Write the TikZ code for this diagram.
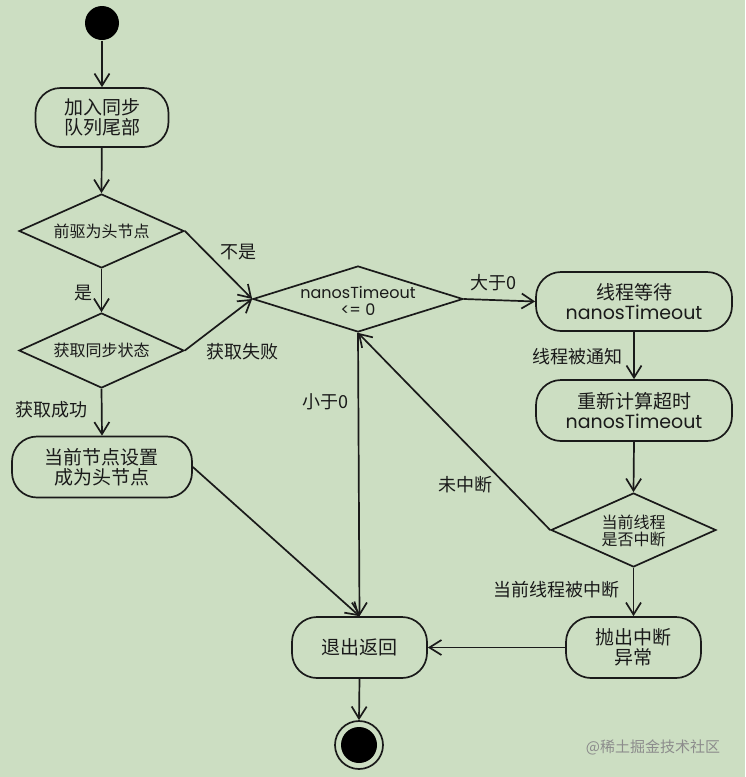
\documentclass[tikz,border=0pt]{standalone}
\usepackage{fontspec}
\setmainfont{Noto Sans CJK SC}
\newfontfamily\lat{Poppins}
\usetikzlibrary{shapes.geometric,arrows.meta}
\definecolor{bg}{HTML}{CCDEC2}
\definecolor{ink}{HTML}{1A1A1A}
\begin{document}
\begin{tikzpicture}[x=1pt,y=-1pt,
  every path/.style={line width=1.7pt},
  box/.style={draw=ink, rectangle, rounded corners=25pt, align=center, inner sep=0pt,
     font=\fontsize{19}{20}\selectfont, text=ink},
  dia/.style={draw=ink, diamond, inner sep=0pt},
  dtext/.style={align=center, font=\fontsize{16}{17}\selectfont, text=ink},
  lbl/.style={font=\fontsize{18}{19}\selectfont, text=ink},
  arr/.style={draw=ink, -{Straight Barb[length=12pt,width=15pt,line width=1.7pt]}},
  con/.style={draw=ink}]
\useasboundingbox (0,0) rectangle (745,777);
\fill[bg] (0,0) rectangle (745,777);

% initial and final states
\node[circle, fill=black, minimum size=34pt, inner sep=0pt] (start) at (102,23) {};
\node[circle, draw=ink, minimum size=48pt, inner sep=0pt] (end) at (359,745) {};
\fill[black] (end.center) circle (18);

% activities
\node[box, minimum width=133pt, minimum height=59pt] (b1) at (102,117.5) {加入同步\\队列尾部};
\node[box, minimum width=180pt, minimum height=61pt] (b2) at (102,467) {当前节点设置\\成为头节点};
\node[box, minimum width=196pt, minimum height=59pt] (b3) at (634,301.5) {线程等待\\{\lat nanosTimeout}};
\node[box, minimum width=196pt, minimum height=61pt] (b4) at (634,410.5) {重新计算超时\\{\lat nanosTimeout}};
\node[box, minimum width=135pt, minimum height=61pt] (b5) at (633.5,647.5) {抛出中断\\异常};
\node[box, minimum width=135pt, minimum height=61pt] (ex) at (359.5,647.5) {退出返回};

% decisions
\node[dia, minimum width=165pt, minimum height=74pt] (d1) at (101.5,231) {};
\node[dtext] at (d1) {前驱为头节点};
\node[dia, minimum width=165pt, minimum height=75pt] (d2) at (101.5,350.5) {};
\node[dtext] at (d2) {获取同步状态};
\node[dia, minimum width=210pt, minimum height=66pt] (nt) at (358,299) {};
\node[dtext, font=\lat\fontsize{16}{17}\selectfont] at (358,301) {nanosTimeout\\<= 0};
\node[dia, minimum width=165pt, minimum height=74pt] (d3) at (633.5,530) {};
\node[dtext] at (633.5,531) {当前线程\\是否中断};

% connectors
\draw[arr] (start) -- (b1);
\draw[arr] (b1) -- (d1.north);
\draw[arr] (d1.south) -- (d2.north);
\draw[arr] (d1.east) -- (nt.west);
\draw[arr] (d2.east) -- (nt.west);
\draw[arr] (d2.south) -- (b2.north);
\draw[arr] (b2.east) -- (ex.north);
\draw[arr] (nt.south) -- (ex.north);
\draw[arr] (nt.east) -- (b3.west);
\draw[arr] (b3.south) -- (b4.north);
\draw[arr] (b4.south) -- (d3.north);
\draw[arr] (d3.west) -- (nt.south);
\draw[arr] (d3.south) -- (b5.north);
\draw[arr] (b5.west) -- (ex.east);
\draw[arr] (ex.south) -- (end.north);

% labels
\node[lbl] at (238,252) {不是};
\node[lbl] at (83,293) {是};
\node[lbl] at (242,352) {获取失败};
\node[lbl] at (52,410) {获取成功};
\node[lbl] at (325,402) {小于0};
\node[lbl] at (493,283) {大于0};
\node[lbl] at (577,357) {线程被通知};
\node[lbl] at (465,485) {未中断};
\node[lbl] at (556,590) {当前线程被中断};
\node[font=\fontsize{15}{16}\selectfont, text=black!45] at (653,747) {@稀土掘金技术社区};
\end{tikzpicture}
\end{document}
